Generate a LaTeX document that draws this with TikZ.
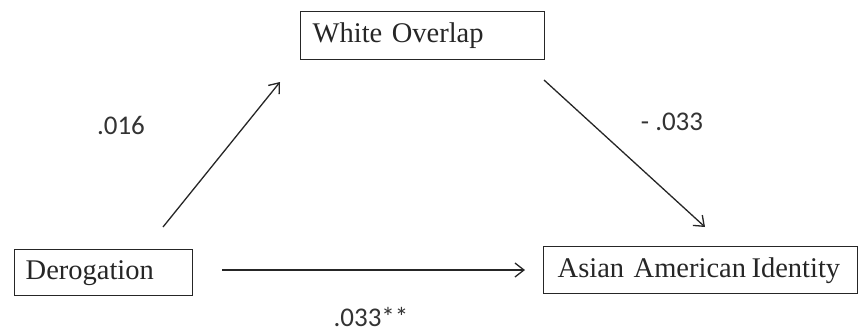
\documentclass[tikz,border=0pt]{standalone}
\usepackage{fontspec}
\setmainfont{Liberation Serif}
\newfontfamily\labelfont{Carlito}
\usetikzlibrary{arrows.meta}

\begin{document}
\begin{tikzpicture}[x=1pt,y=-1pt,
  varbox/.style={draw=black!85, line width=1.4pt, minimum height=#1, anchor=north west,
    inner ysep=0pt, font=\fontsize{28.5}{30}\selectfont, text=black!85},
  path/.style={draw=black!85, line width=1.3pt, -{Straight Barb[length=9pt,width=14pt,line width=1.3pt]}},
  coef/.style={font=\labelfont\fontsize{27}{28}\selectfont, text=black!80}]
  \useasboundingbox (0,0) rectangle (858,333);

  % variables
  \node[varbox=48pt, text width=220pt, inner xsep=12pt, align=left] (white) at (300,11) {White Overlap};
  \node[varbox=46pt, text width=156pt, inner xsep=11pt, align=left] (derog) at (14,249) {Derogation};
  \node[varbox=47pt, text width=286pt, inner xsep=14pt, align=left] (asian) at (543,246)
    {\mbox{Asian American\hspace{-4pt} Identity}};

  % free ends of the paths
  \coordinate (a1) at (163,227);
  \coordinate (a2) at (280,82);
  \coordinate (b1) at (544,80);
  \coordinate (b2) at (705,227);
  \coordinate (c1) at (222,270);
  \coordinate (c2) at (525,270);

  \draw[path] (a1) -- (a2);
  \draw[path] (b1) -- (b2);
  \draw[path] (c1) -- (c2);

  % path coefficients
  \node[coef] (k1) at (121,125) {.016};
  \node[coef] (k2) at (672,122) {- .033};
  \node[coef] (k3) at (371,317) {.033**};
\end{tikzpicture}
\end{document}
